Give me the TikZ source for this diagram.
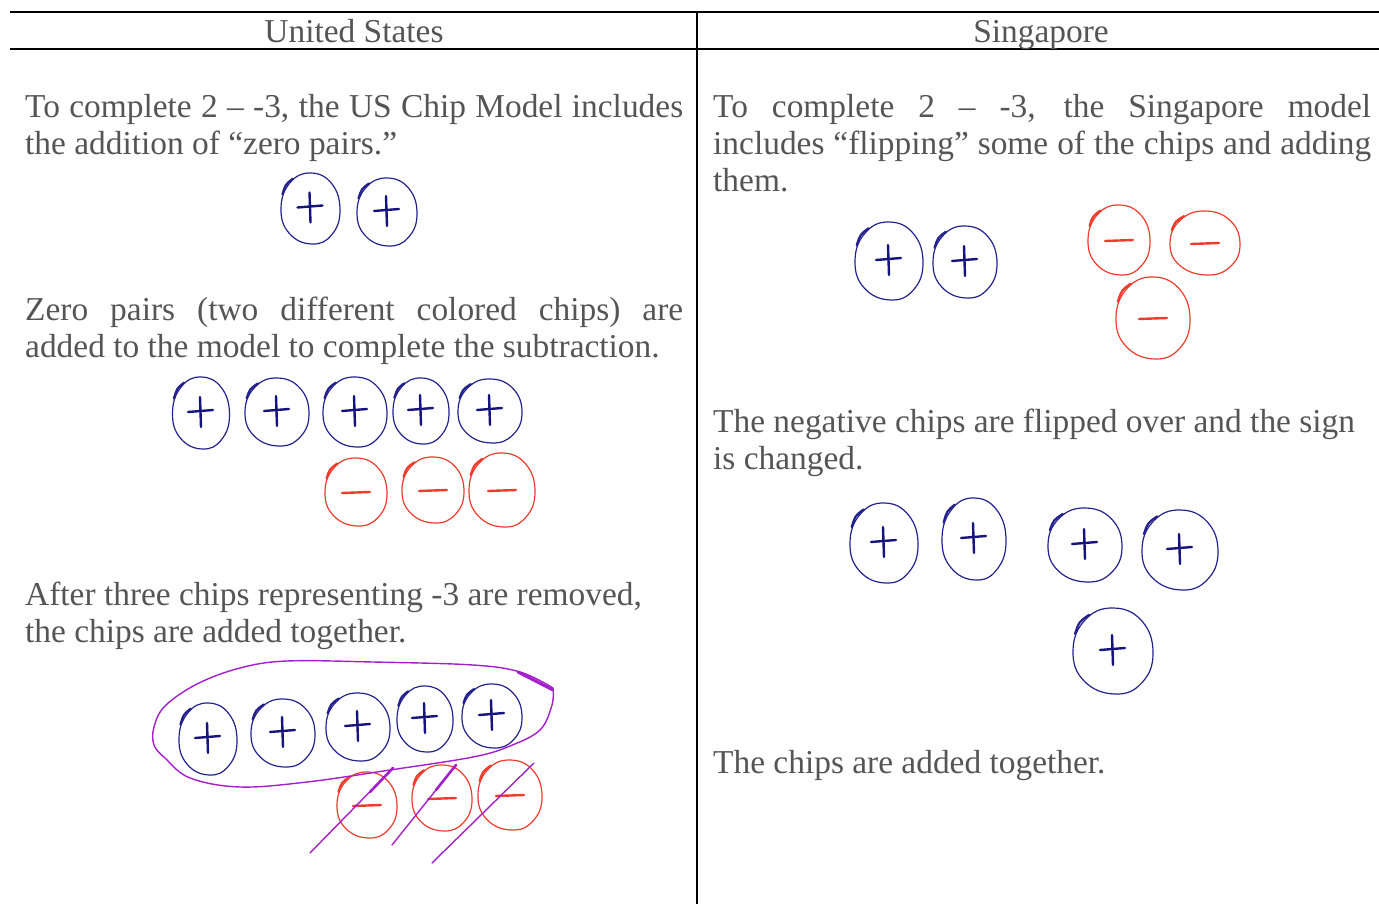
\documentclass[tikz,border=0pt]{standalone}
\usepackage{fontspec}
\setmainfont{Liberation Serif}
\definecolor{txt}{HTML}{555555}
\definecolor{navy}{HTML}{23218C}
\definecolor{navyd}{HTML}{15137C}
\definecolor{chipred}{HTML}{EE3B2C}
\definecolor{purp}{HTML}{A41ECC}
\tikzset{
  rule/.style={line width=2.4pt, black},
  bodytext/.style={anchor=base west, inner sep=0pt, text=txt, font=\fontsize{33.4}{37}\selectfont},
  headtext/.style={anchor=base, inner sep=0pt, text=txt, font=\fontsize{33.4}{37}\selectfont},
  bluechip/.style={draw=navy, line width=1.2pt},
  redchip/.style={draw=chipred, line width=1.2pt},
  plusstroke/.style={draw=navyd, line width=2.4pt, line cap=round},
  minusstroke/.style={draw=chipred, line width=2.4pt, line cap=round},
  loopline/.style={draw=purp, line width=1.4pt, line cap=round},
}
\newcommand\chipoutline[5]{%
  \draw[#1] plot[smooth cycle, tension=0.75] coordinates {
    ({#2+#4},{#3+0.05*#5}) ({#2+0.72*#4},{#3+0.74*#5}) ({#2+0.05*#4},{#3+#5})
    ({#2-0.72*#4},{#3+0.70*#5}) ({#2-#4},{#3}) ({#2-0.70*#4},{#3-0.72*#5})
    ({#2},{#3-#5}) ({#2+0.72*#4},{#3-0.70*#5})};
  \draw[#1, line width=2.2pt, line cap=round] ({#2-0.95*#4},{#3-0.4*#5}) .. controls ({#2-0.85*#4},{#3-0.68*#5}) .. ({#2-0.6*#4},{#3-0.84*#5});
}
\newcommand\pluschip[4]{% cx cy rx ry
  \chipoutline{bluechip}{#1}{#2}{#3}{#4}
  \draw[plusstroke] ({#1-13},{#2-1}) -- ({#1+12},{#2-3});
  \draw[plusstroke] ({#1-1},{#2-16}) -- ({#1},{#2+14});
}
\newcommand\minuschip[4]{% cx cy rx ry
  \chipoutline{redchip}{#1}{#2}{#3}{#4}
  \draw[minusstroke] ({#1-14},{#2+1}) -- ({#1+14},{#2});
}
\begin{document}
\begin{tikzpicture}[x=1pt,y=-1pt]
\useasboundingbox (0,0) rectangle (1379,904);
% table rules
\draw[rule] (10,12) -- (1379,12);
\draw[rule] (10,49) -- (1379,49);
\draw[rule] (697,12) -- (697,904);
% headers
\node[headtext] (hUS) at (354,43) {United States};
\node[headtext] (hSG) at (1041,43) {Singapore};
% left text
\node[bodytext] (l1a) at (25,118) {\makebox[658pt][s]{To complete 2 – -3, the US Chip Model includes}};
\node[bodytext] (l1b) at (25,155) {the addition of “zero pairs.”};
\node[bodytext] (l2a) at (25,320) {\makebox[658pt][s]{Zero pairs (two different colored chips) are}};
\node[bodytext] (l2b) at (25,357) {added to the model to complete the subtraction.};
\node[bodytext] (l3a) at (25,605) {After three chips representing -3 are removed,};
\node[bodytext] (l3b) at (25,642) {the chips are added together.};
% right text
\node[bodytext] (r1a) at (713,118) {\makebox[658pt][s]{To complete 2 – -3, the Singapore model}};
\node[bodytext] (r1b) at (713,155) {\makebox[658pt][s]{includes “flipping” some of the chips and adding}};
\node[bodytext] (r1c) at (713,192) {them.};
\node[bodytext] (r2a) at (713,432) {The negative chips are flipped over and the sign};
\node[bodytext] (r2b) at (713,469) {is changed.};
\node[bodytext] (r3a) at (713,773) {The chips are added together.};
% left top chips
\pluschip{310.5}{208.5}{29.5}{35.5}
\pluschip{387}{212}{30}{34}
% left middle chips
\pluschip{201}{413}{28.5}{36}
\pluschip{277}{412}{32}{34}
\pluschip{355}{412}{32}{35}
\pluschip{421}{411}{28}{33}
\pluschip{490}{411}{32}{32}
\minuschip{356}{492}{31}{34}
\minuschip{433}{490}{31}{33}
\minuschip{502}{490}{33}{37}
% left bottom chips
\pluschip{208}{739}{29}{36}
\pluschip{283}{733}{32}{34}
\pluschip{358}{727}{32}{34}
\pluschip{425}{719}{28}{33}
\pluschip{492}{716}{30}{32}
\minuschip{367}{805}{30}{33}
\minuschip{442}{798}{30}{33}
\minuschip{510}{795}{32}{35}
% purple loop and strikes
\draw[loopline] plot[smooth, tension=0.6] coordinates {(553,688) (552,705) (540,730) (510,746) (473,757) (390,770) (307,782) (240,787) (190,778) (165,758) (154,745) (154,727) (165,706) (197,684) (240,668) (287,661) (373,662) (473,665) (520,672) (553,688)};
\draw[loopline, line width=3pt] (518,672) -- (553,690);
\draw[loopline] (310,853) -- (393,768);
\draw[loopline] (392,845) -- (456,765);
\draw[loopline] (432,863) -- (534,763);
\draw[loopline, line width=2.6pt] (370,792) -- (393,768);
\draw[loopline, line width=2.6pt] (436,790) -- (456,765);
% right top chips
\pluschip{889}{261}{34}{39}
\pluschip{965}{262}{32}{36}
\minuschip{1119}{240}{31}{35}
\minuschip{1205}{243}{35}{32}
\minuschip{1153}{318}{37}{41}
% right middle chips
\pluschip{884}{543}{34}{40}
\pluschip{974}{539}{32}{41}
\pluschip{1085}{545}{37}{37}
\pluschip{1180}{550}{38}{40}
\pluschip{1113}{651}{40}{43}
\end{tikzpicture}
\end{document}
